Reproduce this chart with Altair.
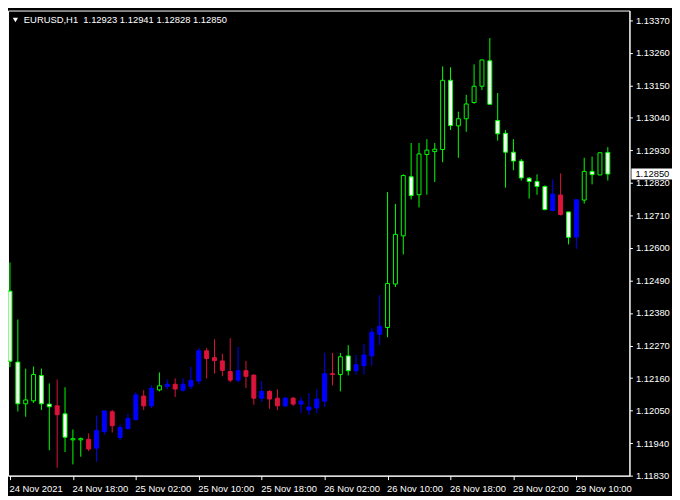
import altair as alt
import pandas as pd

symbol = "EURUSD,H1"

opens = [1.12454, 1.12214, 1.12073, 1.12083, 1.12169, 1.12072, 1.12066, 1.12039, 1.11951, 1.11951,
         1.11953, 1.11923, 1.11979, 1.12046, 1.11959, 1.11989, 1.12019, 1.12099, 1.12066, 1.12120,
         1.12132, 1.12139, 1.12119, 1.12132, 1.12150, 1.12252, 1.12229, 1.12218, 1.12182, 1.12153,
         1.12185, 1.12170, 1.12092, 1.12115, 1.12092, 1.12066, 1.12092, 1.12072, 1.12052, 1.12059,
         1.12082, 1.12175, 1.12172, 1.12235, 1.12185, 1.12202, 1.12235, 1.12308, 1.12331, 1.12478,
         1.12641, 1.12841, 1.12780, 1.12916, 1.12926, 1.12933, 1.13167, 1.13013, 1.13037, 1.13092,
         1.13147, 1.13233, 1.13031, 1.12988, 1.12924, 1.12894, 1.12836, 1.12825, 1.12808, 1.12727,
         1.12779, 1.12722, 1.12637, 1.12762, 1.12859, 1.12847, 1.12923]

highs = [1.12551, 1.12358, 1.12192, 1.12199, 1.12192, 1.12142, 1.12155, 1.12129, 1.11986, 1.11959,
         1.11973, 1.12033, 1.12049, 1.12052, 1.12003, 1.12039, 1.12112, 1.12119, 1.12135, 1.12179,
         1.12155, 1.12159, 1.12159, 1.12198, 1.12262, 1.12262, 1.12291, 1.12242, 1.12295, 1.12265,
         1.12218, 1.12172, 1.12150, 1.12119, 1.12122, 1.12096, 1.12096, 1.12096, 1.12109, 1.12122,
         1.12245, 1.12245, 1.12245, 1.12271, 1.12238, 1.12275, 1.12328, 1.12441, 1.12789, 1.12749,
         1.12849, 1.12955, 1.12955, 1.12968, 1.12955, 1.13214, 1.13211, 1.13061, 1.13118, 1.13221,
         1.13237, 1.13310, 1.13124, 1.12999, 1.12968, 1.12901, 1.12840, 1.12849, 1.12812, 1.12832,
         1.12852, 1.12722, 1.12676, 1.12905, 1.12909, 1.12918, 1.12941]

lows = [1.12197, 1.12047, 1.12029, 1.12076, 1.12052, 1.11916, 1.11857, 1.11910, 1.11868, 1.11894,
        1.11913, 1.11877, 1.11969, 1.11976, 1.11950, 1.11987, 1.12019, 1.12052, 1.12059, 1.12115,
        1.12123, 1.12096, 1.12115, 1.12123, 1.12139, 1.12159, 1.12175, 1.12166, 1.12146, 1.12145,
        1.12126, 1.12070, 1.12079, 1.12056, 1.12052, 1.12062, 1.12066, 1.12042, 1.12036, 1.12042,
        1.12062, 1.12135, 1.12115, 1.12169, 1.12172, 1.12172, 1.12202, 1.12271, 1.12298, 1.12468,
        1.12578, 1.12764, 1.12737, 1.12780, 1.12823, 1.12890, 1.12999, 1.12905, 1.12993, 1.13088,
        1.13134, 1.13086, 1.12963, 1.12804, 1.12863, 1.12828, 1.12767, 1.12780, 1.12727, 1.12724,
        1.12710, 1.12612, 1.12597, 1.12750, 1.12815, 1.12847, 1.12828]

closes = [1.12217, 1.12073, 1.12086, 1.12172, 1.12073, 1.12063, 1.12036, 1.11960, 1.11955, 1.11955,
          1.11920, 1.11983, 1.12049, 1.11999, 1.11993, 1.12023, 1.12103, 1.12066, 1.12125, 1.12134,
          1.12139, 1.12123, 1.12139, 1.12152, 1.12252, 1.12226, 1.12219, 1.12186, 1.12153, 1.12185,
          1.12166, 1.12092, 1.12115, 1.12089, 1.12066, 1.12092, 1.12072, 1.12082, 1.12062, 1.12089,
          1.12175, 1.12172, 1.12232, 1.12185, 1.12205, 1.12238, 1.12315, 1.12335, 1.12480, 1.12646,
          1.12845, 1.12777, 1.12918, 1.12931, 1.12934, 1.13167, 1.13014, 1.13037, 1.13087, 1.13147,
          1.13236, 1.13086, 1.12986, 1.12924, 1.12894, 1.12837, 1.12825, 1.12808, 1.12730, 1.12782,
          1.12713, 1.12636, 1.12763, 1.12859, 1.12848, 1.12922, 1.12850]

signal = ["", "", "", "", "", "", "red", "", "", "",
          "red", "blue", "blue", "red", "blue", "blue", "blue", "red", "blue", "",
          "blue", "red", "blue", "blue", "blue", "red", "red", "red", "red", "blue",
          "red", "red", "blue", "red", "red", "blue", "red", "blue", "blue", "blue",
          "blue", "red", "", "", "blue", "blue", "blue", "blue", "", "",
          "", "", "", "", "", "", "", "", "", "",
          "", "", "", "", "", "", "", "", "", "blue",
          "red", "", "blue", "", "", "", ""]

tick_index = [0, 8, 16, 24, 32, 40, 48, 56, 64, 72]
tick_labels = ["24 Nov 2021", "24 Nov 18:00", "25 Nov 02:00", "25 Nov 10:00", "25 Nov 18:00",
               "26 Nov 02:00", "26 Nov 10:00", "26 Nov 18:00", "29 Nov 02:00", "29 Nov 10:00"]
price_ticks = [1.11830, 1.11940, 1.12050, 1.12160, 1.12270, 1.12380, 1.12490, 1.12600,
               1.12710, 1.12820, 1.12930, 1.13040, 1.13150, 1.13260, 1.13370]

kinds = ["bull", "bear", "red", "blue"]
fill_colors = ["#000000", "#ffffff", "#dc143c", "#0000ff"]
line_colors = ["#00ff00", "#00ff00", "#dc143c", "#0000ff"]

FONT = "Liberation Sans"
FS = 9.5
W, H = 628, 470

df = pd.DataFrame({"idx": list(range(len(opens))), "o": opens, "h": highs, "l": lows, "c": closes})
df["kind"] = [s if s else ("bull" if c >= o else "bear") for s, o, c in zip(signal, opens, closes)]
df["lo"] = df[["o", "c"]].min(axis=1)
df["hi"] = df[["o", "c"]].max(axis=1)

label_js = "[" + ",".join("'%s'" % t for t in tick_labels) + "]"
idx_js = "[" + ",".join(str(i) for i in tick_index) + "]"

xscale = alt.Scale(domain=[-0.25, 78.75], nice=False, zero=False, padding=0)
yscale = alt.Scale(domain=[1.11830, 1.13403], nice=False, zero=False, padding=0)

xaxis = alt.Axis(values=tick_index, labelExpr=label_js + "[indexof(" + idx_js + ", datum.value)]",
                 title=None, grid=False, labelAlign="left", labelFlush=False, labelOverlap=False,
                 labelColor="white", labelFont=FONT, labelFontSize=FS, tickColor="white",
                 domainColor="white", tickSize=4, labelPadding=4, labelOffset=-1)
yaxis = alt.Axis(orient="right", values=price_ticks, format=".5f", title=None, grid=False,
                 labelColor="white", labelFont=FONT, labelFontSize=FS, tickColor="white",
                 domainColor="white", tickSize=3, labelPadding=3, labelFlush=False, labelOverlap=False)

base = alt.Chart(df)

wicks = base.mark_rule(strokeWidth=1, clip=True).encode(
    x=alt.X("idx:Q", scale=xscale, axis=xaxis),
    y=alt.Y("l:Q", scale=yscale, axis=yaxis),
    y2="h:Q",
    color=alt.Color("kind:N", scale=alt.Scale(domain=kinds, range=line_colors), legend=None),
)

bodies = base.mark_bar(width=4, strokeWidth=1, clip=True).encode(
    x=alt.X("idx:Q", scale=xscale, axis=xaxis),
    y=alt.Y("lo:Q", scale=yscale, axis=yaxis),
    y2="hi:Q",
    fill=alt.Fill("kind:N", scale=alt.Scale(domain=kinds, range=fill_colors), legend=None),
    stroke=alt.Stroke("kind:N", scale=alt.Scale(domain=kinds, range=line_colors), legend=None),
)

last = df.iloc[[-1]]
price_box = alt.Chart(last).mark_rect(height=11, fill="white").encode(
    x=alt.value(W + 2), x2=alt.value(W + 43),
    y=alt.Y("c:Q", scale=yscale, axis=yaxis),
)
price_text = alt.Chart(last).mark_text(align="left", baseline="middle", color="black",
                                       font=FONT, fontSize=FS).encode(
    x=alt.value(W + 6),
    y=alt.Y("c:Q", scale=yscale, axis=yaxis),
    text=alt.Text("c:Q", format=".5f"),
)

title_str = symbol + "\u00a0 " + " ".join("%.5f" % v for v in (opens[-1], highs[-1], lows[-1], closes[-1]))
title_df = pd.DataFrame({"t": [title_str]})
title = alt.Chart(title_df).mark_text(align="left", baseline="middle", color="white",
                                      font=FONT, fontSize=FS).encode(
    x=alt.value(16), y=alt.value(10), text="t:N")
tri = alt.Chart(title_df).mark_point(shape="triangle-down", filled=True, size=28, color="white",
                                     opacity=1).encode(x=alt.value(7.5), y=alt.value(9.5))

chart = alt.layer(wicks, bodies, price_box, price_text, title, tri).properties(
    width=W, height=H, padding=0, background="black"
).configure_view(stroke="white", strokeWidth=1)

chart.save("out.html", embed_options={"renderer": "svg", "actions": False})
